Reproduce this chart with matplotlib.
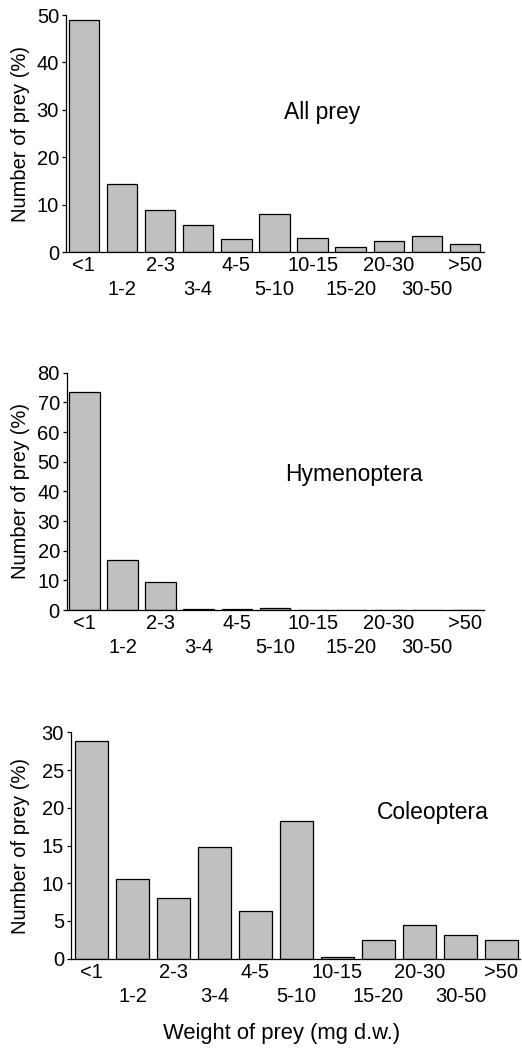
import matplotlib
matplotlib.use('Agg')
import matplotlib.pyplot as plt
import numpy as np

plt.rcParams['font.family'] = ['Liberation Sans', 'DejaVu Sans']
plt.rcParams['font.size'] = 14.5

# weight classes (mg d.w.)
classes = ['<1', '1-2', '2-3', '3-4', '4-5', '5-10', '10-15', '15-20', '20-30', '30-50', '>50']

# percentages
all_prey = [49.0, 14.3, 8.85, 5.8, 2.7, 8.0, 3.0, 1.05, 2.3, 3.45, 1.75]
hymenoptera = [73.5, 16.8, 9.3, 0.45, 0.45, 0.7, 0, 0, 0, 0, 0]
coleoptera = [28.85, 10.5, 8.05, 14.85, 6.3, 18.3, 0.22, 2.45, 4.5, 3.2, 2.45]

panels = [
    (all_prey, 'All prey', [0.1264, 0.7595, 0.801, 0.2261], 50, 10, (-0.47, 10.5), (0.612, 0.59), -0.086),
    (hymenoptera, 'Hymenoptera', [0.1278, 0.4179, 0.7994, 0.2264], 80, 10, (-0.47, 10.5), (0.688, 0.572), -0.088),
    (coleoptera, 'Coleoptera', [0.136, 0.0852, 0.860, 0.216], 30, 5, (-0.5, 10.45), (0.805, 0.647), -0.091),
]

fig = plt.figure(figsize=(5.22, 10.48), dpi=100)
x = np.arange(len(classes))

for vals, name, rect, ymax, ystep, xl, txt, ylab_x in panels:
    ax = fig.add_axes(rect)
    ax.bar(x, vals, width=0.8, color='#c0c0c0', edgecolor='black', linewidth=0.9)
    ax.set_xlim(*xl)
    ax.set_ylim(0, ymax)
    ax.set_yticks(np.arange(0, ymax + 1, ystep))
    ax.spines['top'].set_visible(False)
    ax.spines['right'].set_visible(False)
    ax.spines['left'].set_linewidth(0.9)
    ax.spines['bottom'].set_linewidth(0.9)
    ax.tick_params(axis='y', length=3, width=0.9, pad=2)
    # alternate labels on two rows
    ax.set_xticks(x[::2])
    ax.set_xticklabels(classes[::2])
    ax.set_xticks(x[1::2], minor=True)
    ax.set_xticklabels(classes[1::2], minor=True)
    ax.tick_params(axis='x', which='major', length=0, pad=3)
    ax.tick_params(axis='x', which='minor', length=0, pad=20.3)
    ax.set_ylabel('Number of prey (%)')
    ax.yaxis.set_label_coords(ylab_x, 0.5)
    ax.text(txt[0], txt[1], name, transform=ax.transAxes, ha='center', va='center', fontsize=16.5)

fig.text(281.7 / 522, 1 - 1033 / 1048, 'Weight of prey (mg d.w.)', ha='center', va='center', fontsize=15.8)

fig.savefig('out.png', dpi=100)
